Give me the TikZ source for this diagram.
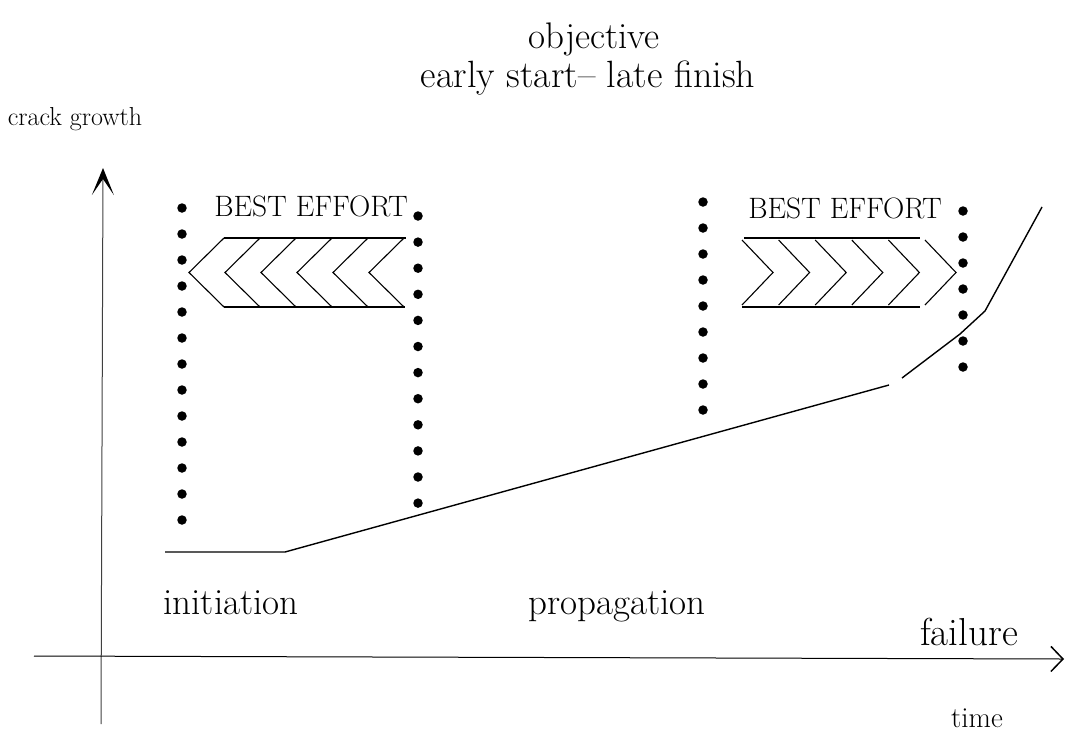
\documentclass[tikz,border=0pt]{standalone}
\usetikzlibrary{arrows.meta}
\begin{document}
\begin{tikzpicture}[x=1pt,y=-1pt,
  lbl/.style={inner sep=0pt,anchor=base},
  dotmark/.style={circle,fill=black,inner sep=0pt,minimum size=9.5pt},
  chev/.style={line width=1.1pt,line join=miter},
  curve/.style={line width=1.4pt},
  axis/.style={line width=1pt}]
\useasboundingbox (0,0) rectangle (1065,732);
% titles
\node[lbl,font=\fontsize{37}{40}\selectfont] (obj) at (594,48) {objective};
\node[lbl,font=\fontsize{38}{42}\selectfont] (esl) at (588,87) {early start-- late finish};
\node[lbl,font=\fontsize{26}{28}\selectfont] (cg) at (75,125) {crack growth};
% axes
\coordinate (yb) at (101,724);
\coordinate (yt) at (103,168);
\coordinate (xl) at (34,656);
\coordinate (xr) at (1064,659);
\draw[axis,black!75,-{Stealth[length=27pt,width=22pt,inset=16pt,black,line width=1.6pt]}] (yb) -- (yt);
\draw[axis,-{Straight Barb[length=12pt,width=25pt,line width=1.5pt]}] (xl) -- (xr);
% dot columns
\foreach \i in {0,...,12} \node[dotmark] (a\i) at (182,208+26*\i) {};
\foreach \i in {0,...,11} \node[dotmark] (b\i) at (418,216+26.1*\i) {};
\foreach \i in {0,...,8} \node[dotmark] (c\i) at (703,202+26*\i) {};
\foreach \i in {0,...,6} \node[dotmark] (d\i) at (963,211+26*\i) {};
% BEST EFFORT labels
\node[lbl,font=\fontsize{29.5}{32}\selectfont] (be1) at (311,216) {BEST EFFORT};
\node[lbl,font=\fontsize{29.5}{32}\selectfont] (be2) at (845,218) {BEST EFFORT};
% left-pointing chevron arrow
\draw[chev] (224,238) -- (406,238);
\draw[chev] (224,307) -- (405,307);
\foreach \i in {0,...,5}
  \draw[chev] ({189+36*\i+35},238) -- ({189+36*\i},272.5) -- ({189+36*\i+35},307);
% right-pointing chevron arrow
\draw[chev] (744,238) -- (920,238);
\draw[chev] (742,307) -- (920,307);
\foreach \i in {0,...,5}
  \draw[chev] ({742+36.6*\i},240) -- ({742+36.6*\i+31},272.5) -- ({742+36.6*\i},305);
% crack growth curve
\coordinate (p0) at (165,552);
\coordinate (p1) at (285,552);
\coordinate (p2) at (889,385);
\coordinate (p3) at (902,378);
\coordinate (p4) at (960,334);
\coordinate (p5) at (985,311);
\coordinate (p6) at (1042,207);
\draw[curve] (p0) -- (p1) -- (p2);
\draw[curve] (p3) -- (p4) -- (p5) -- (p6);
% phase labels
\node[lbl,font=\fontsize{37}{40}\selectfont] (ini) at (231,614) {initiation};
\node[lbl,font=\fontsize{37}{40}\selectfont] (pro) at (617,614) {propagation};
\node[lbl,font=\fontsize{39}{42}\selectfont] (fai) at (969,645) {failure};
\node[lbl,font=\fontsize{29}{30}\selectfont] (tim) at (977,727) {time};
\end{tikzpicture}
\end{document}
